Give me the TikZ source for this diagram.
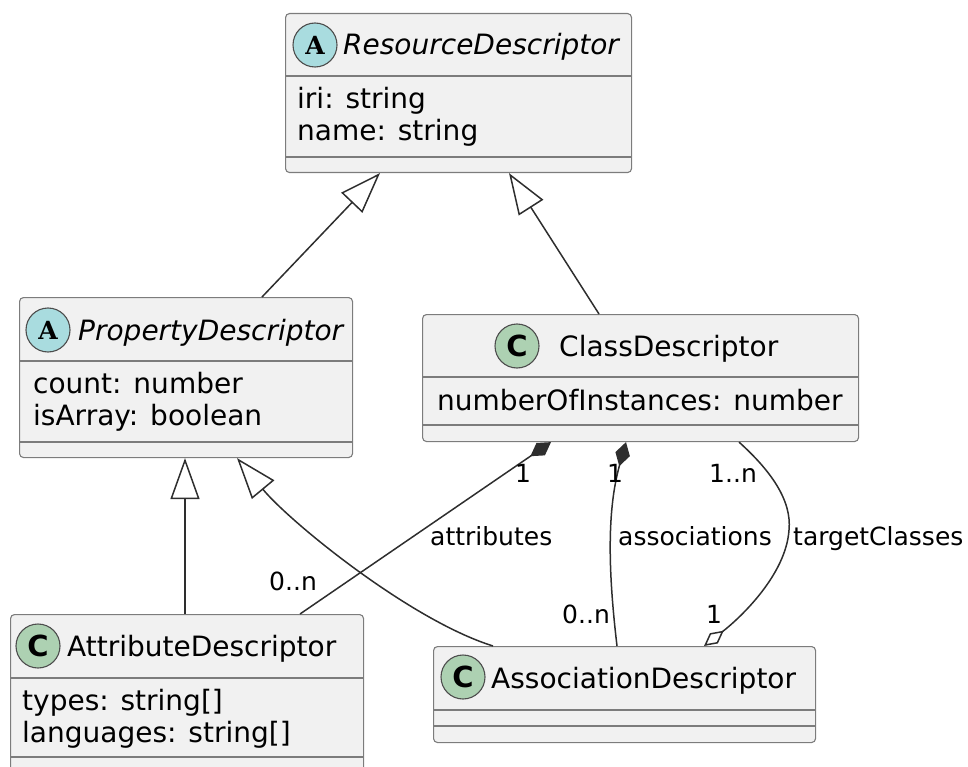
\documentclass[tikz,border=0pt]{standalone}
\usepackage{fontspec}
\setmainfont{DejaVu Sans}
\newfontfamily\badgeserif{DejaVu Serif}
\usetikzlibrary{arrows.meta,calc}

\definecolor{boxfill}{HTML}{F1F1F1}
\definecolor{boxline}{HTML}{7C7C7C}
\definecolor{edgeline}{HTML}{2E2E2E}
\definecolor{absfill}{HTML}{A9DCDF}
\definecolor{clsfill}{HTML}{ADD1B2}

\tikzset{
  classbox/.style={draw=boxline, fill=boxfill, rounded corners=4pt, line width=1.1pt,
                   inner sep=0pt, anchor=north west},
  divider/.style={draw=boxline, line width=1.1pt},
  badge/.style={circle, draw=edgeline!85, line width=1.1pt, minimum size=44pt, inner sep=0pt},
  titletext/.style={anchor=base west, inner sep=0pt, font=\fontsize{28pt}{32pt}\selectfont},
  abstitle/.style={titletext, font=\fontsize{28pt}{32pt}\selectfont\itshape},
  fieldtext/.style={anchor=base west, inner sep=0pt, font=\fontsize{28pt}{32pt}\selectfont},
  edgetext/.style={anchor=base west, inner sep=0pt, font=\fontsize{25pt}{29pt}\selectfont},
  edge/.style={draw=edgeline, line width=1.5pt, line join=round},
  extends/.style={edge, -{Triangle[fill=white, length=41pt, width=29pt]}},
  composes/.style={edge, -{Diamond[fill=edgeline, length=25pt, width=15pt]}},
  aggregates/.style={edge, -{Diamond[fill=white, length=25pt, width=13pt]}},
}

\newcommand{\absmark}{{\badgeserif\bfseries\fontsize{25pt}{25pt}\selectfont A}}
\newcommand{\clsmark}{{\bfseries\fontsize{29pt}{29pt}\selectfont C}}

\begin{document}
\begin{tikzpicture}[x=1pt, y=-1pt]
\useasboundingbox (0,0) rectangle (968,767);
\clip (0,0) rectangle (968,767);

% ---------- ResourceDescriptor ----------
\node[classbox, minimum width=346pt, minimum height=159pt] (rd) at (285,13) {};
\draw[divider] ([yshift=-63pt]rd.north west) -- ([yshift=-63pt]rd.north east);
\draw[divider] ([yshift=-144pt]rd.north west) -- ([yshift=-144pt]rd.north east);
\node[badge, fill=absfill] (rdbadge) at (315,45) {\absmark};
\node[abstitle] (rdname) at (343,55) {ResourceDescriptor};
\node[fieldtext] (rdf1) at (297,109) {iri: string};
\node[fieldtext] (rdf2) at (297,141) {name: string};

% ---------- PropertyDescriptor ----------
\node[classbox, minimum width=333pt, minimum height=160pt] (pd) at (19,297) {};
\draw[divider] ([yshift=-64pt]pd.north west) -- ([yshift=-64pt]pd.north east);
\draw[divider] ([yshift=-145pt]pd.north west) -- ([yshift=-145pt]pd.north east);
\node[badge, fill=absfill] (pdbadge) at (48,330) {\absmark};
\node[abstitle] (pdname) at (78,340) {PropertyDescriptor};
\node[fieldtext] (pdf1) at (33,393) {count: number};
\node[fieldtext] (pdf2) at (33,425) {isArray: boolean};

% ---------- ClassDescriptor ----------
\node[classbox, minimum width=436pt, minimum height=127pt] (cd) at (422,314) {};
\draw[divider] ([yshift=-63pt]cd.north west) -- ([yshift=-63pt]cd.north east);
\draw[divider] ([yshift=-111pt]cd.north west) -- ([yshift=-111pt]cd.north east);
\node[badge, fill=clsfill] (cdbadge) at (517,346) {\clsmark};
\node[titletext] (cdname) at (559,356) {ClassDescriptor};
\node[fieldtext] (cdf1) at (437,410) {numberOfInstances: number};

% ---------- AttributeDescriptor ----------
\node[classbox, minimum width=353pt, minimum height=160pt] (ad) at (10,614) {};
\draw[divider] ([yshift=-64pt]ad.north west) -- ([yshift=-64pt]ad.north east);
\draw[divider] ([yshift=-143pt]ad.north west) -- ([yshift=-143pt]ad.north east);
\node[badge, fill=clsfill] (adbadge) at (38,646) {\clsmark};
\node[titletext] (adname) at (67,656) {AttributeDescriptor};
\node[fieldtext] (adf1) at (22,710) {types: string[]};
\node[fieldtext] (adf2) at (22,742) {languages: string[]};

% ---------- AssociationDescriptor ----------
\node[classbox, minimum width=382pt, minimum height=96pt] (asd) at (433,646) {};
\draw[divider] ([yshift=-64pt]asd.north west) -- ([yshift=-64pt]asd.north east);
\draw[divider] ([yshift=-80pt]asd.north west) -- ([yshift=-80pt]asd.north east);
\node[badge, fill=clsfill] (asdbadge) at (463,677) {\clsmark};
\node[titletext] (asdname) at (491,688) {AssociationDescriptor};

% ---------- generalisations ----------
\draw[extends] ([xshift=243pt]pd.north west) -- ([xshift=95pt]rd.south west);
\draw[extends] ([xshift=177pt]cd.north west) -- ([xshift=224pt]rd.south west);
\draw[extends] ([xshift=175pt]ad.north west) -- ([xshift=166pt]pd.south west);
\draw[extends] ([xshift=60pt]asd.north west)
  .. controls (410,620) and (290,522) .. ([xshift=218pt]pd.south west);

% ---------- compositions ----------
\draw[composes] ([xshift=290pt]ad.north west) -- ([xshift=129pt]cd.south west);
\draw[composes] ([xshift=184pt]asd.north west)
  .. controls (608,570) and (607,510) .. ([xshift=204pt]cd.south west);

% ---------- aggregation ----------
\draw[aggregates] ([xshift=317pt]cd.south west)
  .. controls (770,470) and (792,500) .. (789,530)
  .. controls (786,575) and (740,618) .. ([xshift=271pt]asd.north west);

% ---------- role labels and multiplicities ----------
\node[edgetext] (m1) at (515,482) {1};
\node[edgetext] (m2) at (269,590) {0..n};
\node[edgetext] (r1) at (430,545) {attributes};
\node[edgetext] (m3) at (607,482) {1};
\node[edgetext] (r2) at (618,545) {associations};
\node[edgetext] (m4) at (562,623) {0..n};
\node[edgetext] (m5) at (709,482) {1..n};
\node[edgetext] (r3) at (793,545) {targetClasses};
\node[edgetext] (m6) at (706,623) {1};
\end{tikzpicture}
\end{document}
